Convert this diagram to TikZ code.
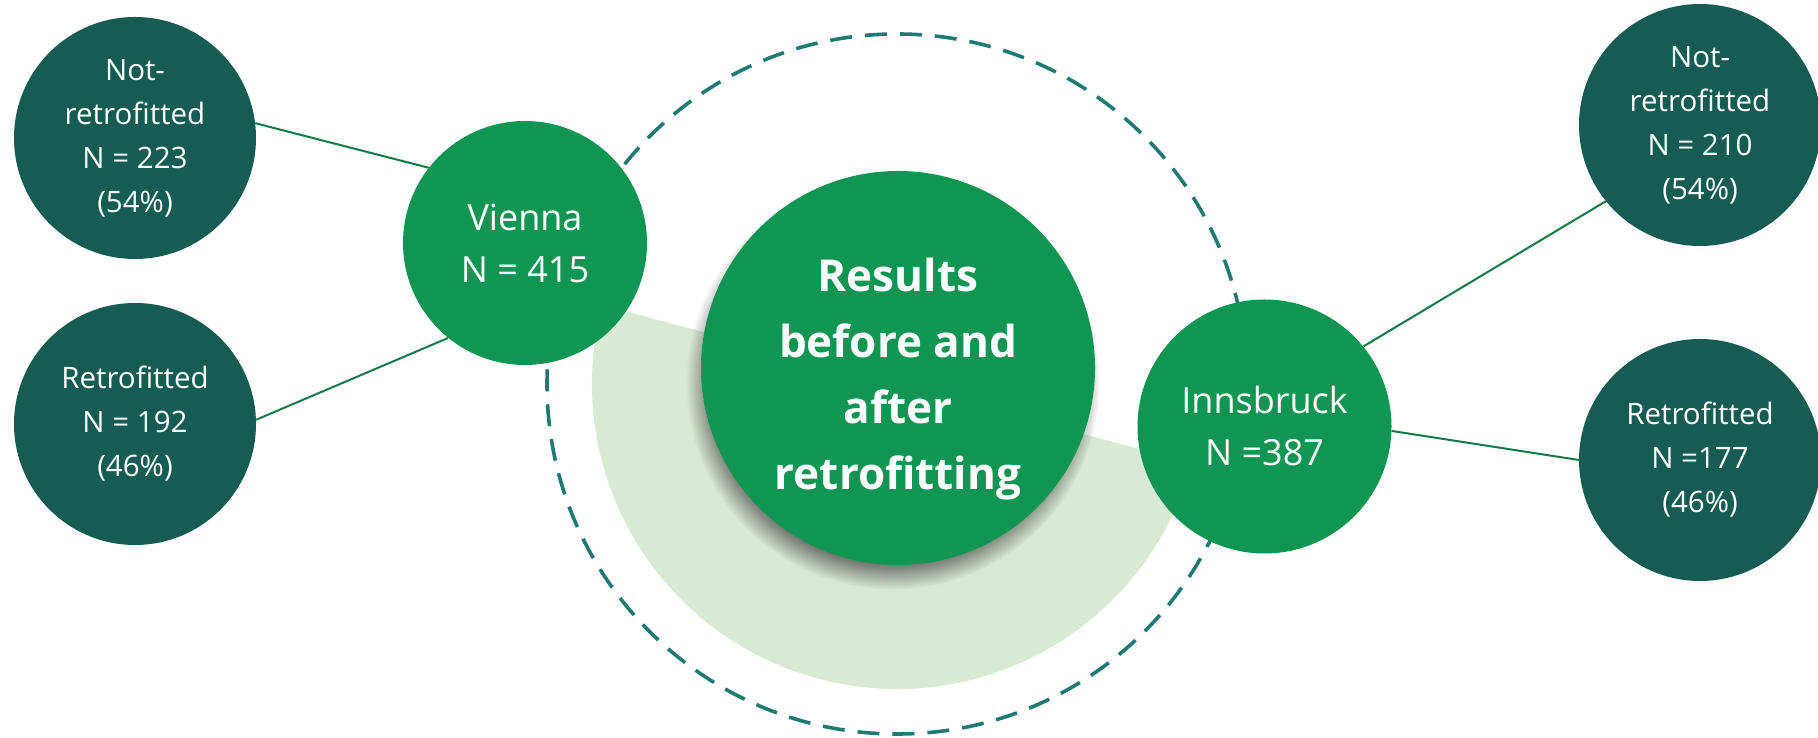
\documentclass[tikz,border=0pt]{standalone}
\usepackage{fontspec}
\setmainfont{Open Sans}
\usetikzlibrary{shadows}
\definecolor{darkteal}{HTML}{175C53}
\definecolor{midgreen}{HTML}{109652}
\definecolor{lightgreen}{HTML}{D9EAD4}
\definecolor{dashteal}{HTML}{1E7A73}
\definecolor{linegreen}{HTML}{137A45}
\begin{document}
\begin{tikzpicture}[x=1pt,y=1pt,
  leaf/.style={circle, fill=darkteal, text=white, minimum size=242pt, inner sep=0pt, align=center, font=\fontsize{29.5}{44}\selectfont},
  city/.style={circle, fill=midgreen, text=white, inner sep=0pt, align=center, font=\fontsize{36}{52}\selectfont},
  hub/.style={circle, fill=midgreen, minimum size=394pt, inner sep=0pt,
     circular drop shadow={shadow xshift=-5pt, shadow yshift=-14pt, shadow scale=1.05, opacity=0.8, fill=black!75}},
  hubtext/.style={text=white, inner sep=0pt, align=center, font=\fontsize{44}{66}\selectfont\bfseries},
  link/.style={draw=linegreen, line width=2pt},
  ring/.style={draw=dashteal, line width=3.6pt, dash pattern=on 22pt off 13pt}]
\useasboundingbox (0,0) rectangle (1818,738);
\coordinate (ringc) at (897,354);
\draw[ring] (ringc) circle[radius=350];
\fill[lightgreen] (ringc) -- ++(165:305) arc[start angle=165, end angle=345, radius=305] -- cycle;

\node[hub] (hub) at (898,370) {};
\node[hubtext] (hubtxt) at ([yshift=-11pt]hub.center) {Results\\before and\\after\\retrofitting};
\node[city, minimum size=244pt] (vienna) at (525,495) {Vienna\\N = 415};
\node[city, minimum size=254pt] (innsbruck) at (1264.5,311.5) {Innsbruck\\N =387};

\node[leaf] (vnot) at (135,600) {Not-\\retrofitted\\N = 223\\(54\%)};
\node[leaf] (vret) at (135,314) {Retrofitted\\N = 192\\(46\%)};
\node[leaf] (inot) at (1700,613) {Not-\\retrofitted\\N = 210\\(54\%)};
\node[leaf] (iret) at (1700,278) {Retrofitted\\N =177\\(46\%)};

\draw[link] (vnot.7) -- (vienna.142);
\draw[link] (vret.2) -- (vienna.231);
\draw[link] (innsbruck.39) -- (inot.219);
\draw[link] (innsbruck.-2) -- (iret.180);
\end{tikzpicture}
\end{document}
